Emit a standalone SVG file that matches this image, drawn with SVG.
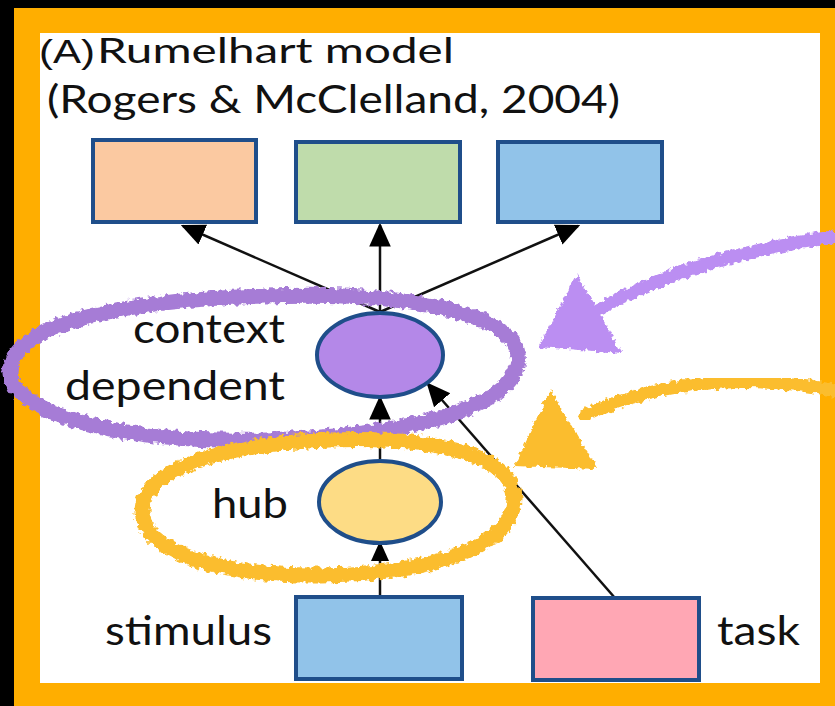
<svg xmlns="http://www.w3.org/2000/svg" width="835" height="706" viewBox="0 0 835 706">
  <style>
    .box { stroke: #1f4e8a; stroke-width: 4; }
    .node-ell { stroke: #1f4e8a; stroke-width: 4; }
    .edge { stroke: #111; stroke-width: 2.5; fill: none; }
    .lbl { font-family: Lato, "Liberation Sans", sans-serif; fill: #111; }
    .scribble { fill: none; stroke-linecap: round; stroke-linejoin: round; filter: url(#rough); }
  </style>
  <defs>
    <marker id="head" viewBox="0 0 10 10" refX="9" refY="5" markerWidth="24" markerHeight="24" markerUnits="userSpaceOnUse" orient="auto">
      <path d="M0,0.5 L10,5 L0,9.5 z" fill="#000"/>
    </marker>
    <marker id="headSm" viewBox="0 0 10 10" refX="9" refY="5" markerWidth="20" markerHeight="20" markerUnits="userSpaceOnUse" orient="auto">
      <path d="M0,0.5 L10,5 L0,9.5 z" fill="#000"/>
    </marker>
    <filter id="rough" x="-10%" y="-10%" width="120%" height="120%">
      <feTurbulence type="fractalNoise" baseFrequency="0.2" numOctaves="2" seed="4" result="n"/>
      <feDisplacementMap in="SourceGraphic" in2="n" scale="8" xChannelSelector="R" yChannelSelector="G"/>
    </filter>
  </defs>

  <!-- frame -->
  <rect x="0" y="0" width="835" height="706" fill="#000"/>
  <rect x="14" y="8" width="821" height="698" fill="#ffae00"/>
  <rect x="40" y="33" width="780" height="650" fill="#fff"/>

  <!-- title -->
  <text x="39" y="63" font-family="'Liberation Sans', sans-serif" font-size="33" fill="#111" textLength="56" lengthAdjust="spacingAndGlyphs">(A)</text>
  <text class="lbl" x="97" y="63" font-size="34" textLength="357" lengthAdjust="spacingAndGlyphs">Rumelhart model</text>
  <text class="lbl" x="47" y="113" font-size="38" textLength="573" lengthAdjust="spacingAndGlyphs">(Rogers &amp; McClelland, 2004)</text>

  <!-- connectors -->
  <g id="edges">
    <line class="edge" x1="380" y1="312" x2="183" y2="226" marker-end="url(#head)"/>
    <line class="edge" x1="380" y1="312" x2="380" y2="225" marker-end="url(#head)"/>
    <line class="edge" x1="380" y1="312" x2="578" y2="226" marker-end="url(#head)"/>
    <line class="edge" x1="380" y1="462" x2="380" y2="398" marker-end="url(#head)"/>
    <line class="edge" x1="380" y1="596" x2="380" y2="543" marker-end="url(#headSm)"/>
    <line class="edge" x1="615" y1="598" x2="428" y2="384" marker-end="url(#head)"/>
  </g>

  <!-- output units -->
  <g id="out1"><rect class="box" x="93" y="140" width="163" height="82" fill="#fbc9a1"/></g>
  <g id="out2"><rect class="box" x="296" y="142" width="164" height="80" fill="#bfdcab"/></g>
  <g id="out3"><rect class="box" x="498" y="142" width="164" height="80" fill="#91c3e9"/></g>

  <!-- context dependent layer -->
  <g id="context">
    <ellipse class="node-ell" cx="380" cy="355" rx="63" ry="42" fill="#b488e8"/>
    <text class="lbl" x="285" y="343" font-size="40" text-anchor="end" textLength="152" lengthAdjust="spacingAndGlyphs">context</text>
    <text class="lbl" x="285" y="400" font-size="40" text-anchor="end" textLength="220" lengthAdjust="spacingAndGlyphs">dependent</text>
  </g>

  <!-- hub layer -->
  <g id="hub">
    <ellipse class="node-ell" cx="380" cy="502" rx="61" ry="41" fill="#fddc85"/>
    <text class="lbl" x="288" y="518" font-size="40" text-anchor="end" textLength="76" lengthAdjust="spacingAndGlyphs">hub</text>
  </g>

  <!-- inputs -->
  <g id="stimulus">
    <rect class="box" x="296" y="597" width="166" height="82" fill="#91c3e9"/>
    <text class="lbl" x="272" y="645" font-size="40" text-anchor="end" textLength="167" lengthAdjust="spacingAndGlyphs">stimulus</text>
  </g>
  <g id="task">
    <rect class="box" x="533" y="598" width="166" height="82" fill="#ffa7b4"/>
    <text class="lbl" x="717" y="645" font-size="40" textLength="83" lengthAdjust="spacingAndGlyphs">task</text>
  </g>

  <!-- highlight annotations -->
  <g id="highlights">
    <path class="scribble" stroke="#a67cd6" stroke-width="15" d="M265,296 C420,290 525,318 518,362 C512,408 410,436 265,440 C120,444 10,412 10,372 C10,328 110,300 265,296 Z"/>
    <path class="scribble" stroke="#bb8ef2" stroke-width="13" d="M833,237 C760,248 700,262 650,285 C630,293 612,302 598,310"/>
    <polygon filter="url(#rough)" fill="#bb8ef2" points="577,274 538,347 622,353"/>

    <path class="scribble" stroke="#fbbd2e" stroke-width="15" d="M330,440 C450,436 516,460 514,500 C512,548 430,574 320,575 C210,576 142,548 142,512 C142,470 220,444 330,440 Z"/>
    <path class="scribble" stroke="#fbbd2e" stroke-width="13" d="M833,390 C780,380 720,378 660,390 C625,398 600,408 585,416"/>
    <polygon filter="url(#rough)" fill="#fbbd2e" points="550,390 514,466 598,469"/>
  </g>
</svg>
